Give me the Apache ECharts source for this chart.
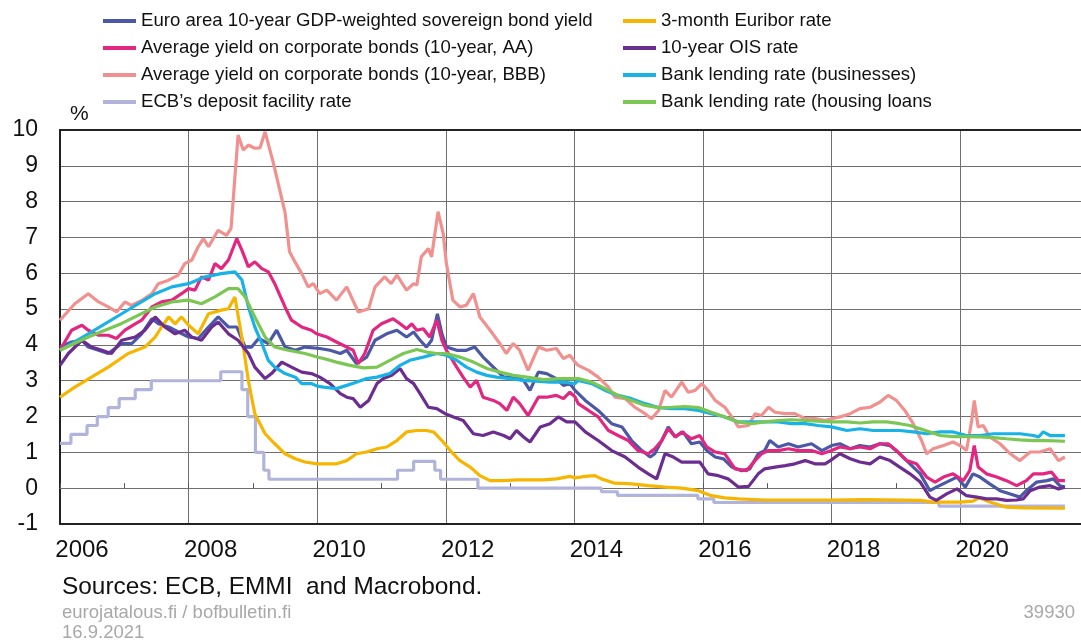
<!DOCTYPE html>
<html>
<head>
<meta charset="utf-8">
<script src="https://cdn.jsdelivr.net/npm/echarts@6/dist/echarts.min.js"></script>
<style>
html,body{margin:0;padding:0;background:#fff;}
#chart{width:1081px;height:643px;}
</style>
</head>
<body>
<div id="chart"></div>
<script>
// ---- data: [decimal year, percent] ----
const seriesNames = [
  'Euro area 10-year GDP-weighted sovereign bond yield',
  'Average yield on corporate bonds (10-year, AA)',
  'Average yield on corporate bonds (10-year, BBB)',
  'ECB\u2019s deposit facility rate',
  '3-month Euribor rate',
  '10-year OIS rate',
  'Bank lending rate (businesses)',
  'Bank lending rate (housing loans'
];
const yearTicks = [2006, 2008, 2010, 2012, 2014, 2016, 2018, 2020];

const sovereign = [[2006.00,3.94],[2006.18,4.08],[2006.34,4.13],[2006.44,3.94],[2006.60,3.85],[2006.75,3.76],[2006.96,4.04],[2007.12,4.04],[2007.27,4.31],[2007.43,4.73],[2007.53,4.59],[2007.69,4.50],[2007.84,4.36],[2008.00,4.22],[2008.15,4.18],[2008.31,4.50],[2008.46,4.78],[2008.62,4.50],[2008.75,4.50],[2008.88,3.94],[2008.98,3.94],[2009.09,4.18],[2009.24,4.04],[2009.37,4.41],[2009.50,3.94],[2009.66,3.85],[2009.81,3.94],[2010.04,3.90],[2010.20,3.85],[2010.36,3.76],[2010.46,3.85],[2010.61,3.48],[2010.77,3.66],[2010.90,4.13],[2011.08,4.31],[2011.24,4.41],[2011.39,4.22],[2011.50,4.36],[2011.60,4.13],[2011.70,3.94],[2011.78,4.13],[2011.87,4.87],[2011.94,4.31],[2012.01,3.94],[2012.17,3.85],[2012.32,3.85],[2012.45,3.94],[2012.58,3.66],[2012.74,3.38],[2012.90,3.10],[2013.05,3.10],[2013.21,3.01],[2013.31,2.73],[2013.44,3.24],[2013.57,3.20],[2013.72,3.06],[2013.83,2.87],[2013.93,2.92],[2014.01,2.73],[2014.17,2.45],[2014.37,2.17],[2014.58,1.80],[2014.74,1.71],[2014.89,1.33],[2015.05,1.05],[2015.18,0.87],[2015.25,0.96],[2015.36,1.33],[2015.46,1.71],[2015.57,1.43],[2015.69,1.57],[2015.82,1.24],[2015.95,1.29],[2016.06,1.05],[2016.19,0.87],[2016.32,0.82],[2016.45,0.59],[2016.60,0.49],[2016.73,0.54],[2016.86,0.96],[2016.96,1.05],[2017.04,1.33],[2017.17,1.15],[2017.33,1.24],[2017.48,1.15],[2017.69,1.24],[2017.85,1.05],[2018.00,1.19],[2018.13,1.24],[2018.29,1.10],[2018.44,1.19],[2018.60,1.15],[2018.75,1.24],[2018.91,1.19],[2019.06,0.96],[2019.22,0.68],[2019.38,0.40],[2019.53,-0.07],[2019.63,0.03],[2019.79,0.17],[2019.95,0.31],[2020.08,0.03],[2020.20,0.40],[2020.31,0.31],[2020.46,0.12],[2020.62,-0.07],[2020.78,-0.16],[2020.93,-0.25],[2021.03,-0.07],[2021.19,0.17],[2021.35,0.21],[2021.45,0.26],[2021.55,0.07],[2021.63,0.03]];

const corpAA = [[2006.00,3.85],[2006.18,4.41],[2006.34,4.55],[2006.44,4.41],[2006.60,4.27],[2006.75,4.27],[2006.88,4.18],[2007.01,4.41],[2007.17,4.59],[2007.27,4.69],[2007.43,5.06],[2007.58,5.20],[2007.74,5.25],[2007.89,5.43],[2008.00,5.57],[2008.10,5.53],[2008.20,5.90],[2008.31,5.81],[2008.41,6.27],[2008.51,6.13],[2008.62,6.37],[2008.75,6.97],[2008.83,6.64],[2008.93,6.18],[2009.03,6.32],[2009.14,6.13],[2009.24,6.04],[2009.34,5.71],[2009.50,5.06],[2009.60,4.69],[2009.76,4.50],[2009.91,4.41],[2009.99,4.31],[2010.15,4.22],[2010.30,4.08],[2010.46,3.94],[2010.56,3.85],[2010.64,3.48],[2010.74,3.76],[2010.87,4.41],[2011.00,4.59],[2011.18,4.73],[2011.29,4.59],[2011.39,4.45],[2011.47,4.59],[2011.55,4.41],[2011.65,4.45],[2011.75,4.22],[2011.86,4.69],[2011.94,4.13],[2012.01,3.85],[2012.17,3.38],[2012.27,3.10],[2012.38,2.82],[2012.48,3.01],[2012.58,2.54],[2012.74,2.45],[2012.84,2.36],[2012.95,2.17],[2013.05,2.54],[2013.15,2.36],[2013.28,2.03],[2013.44,2.54],[2013.57,2.54],[2013.72,2.59],[2013.83,2.50],[2013.93,2.68],[2014.01,2.55],[2014.06,2.36],[2014.22,2.17],[2014.37,1.99],[2014.53,1.61],[2014.68,1.47],[2014.84,1.33],[2014.99,1.05],[2015.15,0.96],[2015.25,1.10],[2015.36,1.33],[2015.46,1.66],[2015.57,1.43],[2015.67,1.57],[2015.82,1.38],[2015.95,1.47],[2016.06,1.15],[2016.19,1.01],[2016.34,0.96],[2016.50,0.54],[2016.68,0.49],[2016.81,0.77],[2016.91,0.96],[2017.02,1.05],[2017.17,1.05],[2017.33,1.10],[2017.48,1.05],[2017.69,1.05],[2017.85,0.96],[2018.00,1.05],[2018.13,1.15],[2018.29,1.10],[2018.44,1.15],[2018.60,1.10],[2018.75,1.24],[2018.88,1.24],[2019.01,1.05],[2019.17,0.77],[2019.32,0.68],[2019.48,0.31],[2019.61,0.17],[2019.74,0.31],[2019.89,0.40],[2020.05,0.21],[2020.15,0.49],[2020.22,1.19],[2020.28,0.59],[2020.41,0.40],[2020.57,0.31],[2020.72,0.21],[2020.88,0.07],[2021.03,0.21],[2021.14,0.40],[2021.29,0.40],[2021.42,0.45],[2021.53,0.21],[2021.63,0.21]];

const corpBBB = [[2006.00,4.69],[2006.23,5.15],[2006.44,5.43],[2006.60,5.20],[2006.75,5.06],[2006.88,4.92],[2007.01,5.20],[2007.11,5.10],[2007.27,5.24],[2007.43,5.43],[2007.53,5.71],[2007.68,5.80],[2007.84,5.95],[2007.94,6.27],[2008.05,6.37],[2008.15,6.74],[2008.23,6.97],[2008.31,6.74],[2008.46,7.20],[2008.59,7.06],[2008.66,7.25],[2008.77,9.86],[2008.85,9.44],[2008.93,9.58],[2009.03,9.49],[2009.11,9.50],[2009.19,9.95],[2009.32,9.07],[2009.50,7.70],[2009.57,6.60],[2009.66,6.30],[2009.76,5.99],[2009.86,5.62],[2009.94,5.71],[2010.04,5.43],[2010.15,5.53],[2010.30,5.25],[2010.46,5.62],[2010.64,4.92],[2010.80,5.01],[2010.90,5.62],[2011.05,5.90],[2011.15,5.71],[2011.24,5.95],[2011.39,5.53],[2011.50,5.71],[2011.55,5.67],[2011.62,6.46],[2011.73,6.69],[2011.78,6.46],[2011.88,7.72],[2011.96,7.11],[2012.01,6.27],[2012.11,5.25],[2012.22,5.06],[2012.32,5.11],[2012.43,5.43],[2012.53,4.78],[2012.69,4.41],[2012.84,4.04],[2012.94,3.76],[2013.05,4.04],[2013.15,3.85],[2013.28,3.29],[2013.44,3.94],[2013.57,3.85],[2013.72,3.90],[2013.83,3.62],[2013.93,3.71],[2014.01,3.52],[2014.06,3.43],[2014.22,3.29],[2014.37,3.10],[2014.53,2.82],[2014.63,2.54],[2014.79,2.50],[2014.94,2.26],[2015.10,2.08],[2015.20,1.94],[2015.31,2.17],[2015.41,2.73],[2015.51,2.54],[2015.67,2.96],[2015.77,2.68],[2015.88,2.73],[2015.98,2.92],[2016.08,2.73],[2016.19,2.45],[2016.34,2.26],[2016.45,1.99],[2016.55,1.71],[2016.71,1.75],[2016.81,2.08],[2016.91,2.03],[2017.02,2.26],[2017.12,2.12],[2017.28,2.08],[2017.43,2.08],[2017.59,1.94],[2017.74,1.94],[2017.90,1.89],[2018.00,1.94],[2018.13,1.99],[2018.29,2.08],[2018.44,2.22],[2018.60,2.26],[2018.75,2.40],[2018.88,2.59],[2019.01,2.45],[2019.14,2.17],[2019.27,1.80],[2019.40,1.33],[2019.48,0.96],[2019.58,1.10],[2019.74,1.19],[2019.89,1.29],[2020.00,1.19],[2020.10,1.05],[2020.18,1.89],[2020.22,2.45],[2020.28,1.71],[2020.36,1.75],[2020.46,1.43],[2020.62,1.24],[2020.78,0.96],[2020.93,0.77],[2021.09,1.01],[2021.24,1.01],[2021.40,1.10],[2021.53,0.77],[2021.63,0.87]];

const depositRate = [[2006.00,1.25],[2006.17,1.50],[2006.42,1.75],[2006.58,2.00],[2006.75,2.25],[2006.92,2.50],[2007.17,2.75],[2007.42,3.00],[2008.50,3.25],[2008.83,2.75],[2008.92,2.00],[2009.04,1.00],[2009.17,0.50],[2009.25,0.25],[2011.25,0.50],[2011.50,0.75],[2011.83,0.50],[2011.92,0.25],[2012.50,0.00],[2014.42,-0.10],[2014.67,-0.20],[2015.92,-0.30],[2016.17,-0.40],[2019.67,-0.50],[2021.63,-0.50]];

const euribor3m = [[2006.00,2.54],[2006.23,2.82],[2006.75,3.38],[2007.06,3.76],[2007.32,3.94],[2007.48,4.22],[2007.58,4.50],[2007.69,4.78],[2007.79,4.59],[2007.89,4.78],[2008.00,4.55],[2008.15,4.31],[2008.31,4.87],[2008.51,4.97],[2008.62,5.01],[2008.72,5.34],[2008.83,4.20],[2008.93,3.00],[2009.03,2.08],[2009.19,1.52],[2009.34,1.24],[2009.50,0.96],[2009.66,0.82],[2009.81,0.73],[2010.00,0.68],[2010.30,0.68],[2010.46,0.77],[2010.61,0.96],[2010.77,1.01],[2010.93,1.10],[2011.08,1.15],[2011.24,1.33],[2011.39,1.57],[2011.55,1.61],[2011.70,1.61],[2011.81,1.57],[2011.94,1.33],[2012.07,1.05],[2012.22,0.77],[2012.38,0.59],[2012.53,0.35],[2012.69,0.21],[2012.90,0.21],[2013.10,0.23],[2013.31,0.23],[2013.52,0.23],[2013.72,0.26],[2013.93,0.33],[2014.01,0.29],[2014.17,0.33],[2014.32,0.35],[2014.42,0.26],[2014.63,0.14],[2014.89,0.12],[2015.15,0.07],[2015.41,0.03],[2015.67,0.00],[2015.93,-0.07],[2016.13,-0.21],[2016.34,-0.27],[2016.55,-0.30],[2016.96,-0.33],[2018.00,-0.33],[2018.50,-0.32],[2019.38,-0.34],[2019.58,-0.39],[2020.00,-0.39],[2020.20,-0.36],[2020.30,-0.27],[2020.45,-0.38],[2020.72,-0.53],[2021.00,-0.55],[2021.63,-0.56]];

const ois10y = [[2006.00,3.43],[2006.13,3.76],[2006.34,4.13],[2006.49,3.94],[2006.65,3.85],[2006.80,3.76],[2006.96,4.13],[2007.17,4.22],[2007.32,4.41],[2007.48,4.78],[2007.63,4.50],[2007.79,4.31],[2007.94,4.41],[2008.05,4.22],[2008.20,4.13],[2008.36,4.50],[2008.46,4.64],[2008.62,4.31],[2008.77,4.13],[2008.93,3.76],[2009.03,3.38],[2009.19,3.06],[2009.29,3.20],[2009.45,3.52],[2009.60,3.38],[2009.76,3.24],[2009.91,3.20],[2010.04,3.10],[2010.20,2.92],[2010.36,2.64],[2010.46,2.54],[2010.56,2.50],[2010.67,2.26],[2010.80,2.45],[2010.93,2.92],[2011.03,3.06],[2011.16,3.15],[2011.29,3.34],[2011.39,3.06],[2011.50,2.92],[2011.60,2.64],[2011.73,2.26],[2011.86,2.22],[2011.99,2.08],[2012.12,1.99],[2012.27,1.89],[2012.43,1.52],[2012.58,1.47],[2012.74,1.57],[2012.90,1.47],[2013.00,1.38],[2013.10,1.61],[2013.21,1.43],[2013.31,1.29],[2013.47,1.71],[2013.62,1.80],[2013.75,1.99],[2013.88,1.85],[2014.01,1.85],[2014.17,1.57],[2014.37,1.33],[2014.58,1.05],[2014.79,0.87],[2014.99,0.59],[2015.15,0.40],[2015.28,0.26],[2015.41,0.96],[2015.54,0.87],[2015.67,0.73],[2015.82,0.73],[2015.95,0.73],[2016.08,0.40],[2016.24,0.35],[2016.39,0.26],[2016.55,0.03],[2016.71,0.05],[2016.86,0.40],[2016.96,0.54],[2017.12,0.59],[2017.28,0.63],[2017.43,0.68],[2017.59,0.77],[2017.74,0.68],[2017.90,0.68],[2017.98,0.77],[2018.13,0.96],[2018.29,0.82],[2018.44,0.73],[2018.60,0.68],[2018.75,0.87],[2018.91,0.77],[2019.06,0.59],[2019.22,0.40],[2019.38,0.17],[2019.53,-0.25],[2019.63,-0.34],[2019.79,-0.16],[2019.95,-0.02],[2020.10,-0.21],[2020.26,-0.25],[2020.41,-0.30],[2020.57,-0.30],[2020.72,-0.34],[2020.88,-0.33],[2020.98,-0.30],[2021.09,-0.07],[2021.24,0.03],[2021.40,0.07],[2021.53,-0.02],[2021.63,0.03]];

const lendingBusiness = [[2006.00,3.85],[2006.44,4.31],[2006.96,4.87],[2007.48,5.43],[2007.74,5.62],[2008.00,5.71],[2008.26,5.90],[2008.51,5.99],[2008.72,6.04],[2008.83,5.81],[2008.93,5.06],[2009.03,4.50],[2009.14,4.04],[2009.24,3.57],[2009.34,3.38],[2009.50,3.20],[2009.66,3.10],[2009.76,2.92],[2009.91,2.92],[2010.00,2.85],[2010.10,2.82],[2010.30,2.78],[2010.46,2.87],[2010.61,2.96],[2010.77,3.06],[2010.93,3.10],[2011.13,3.20],[2011.29,3.43],[2011.44,3.57],[2011.65,3.66],[2011.86,3.76],[2012.01,3.71],[2012.17,3.57],[2012.32,3.38],[2012.48,3.24],[2012.64,3.15],[2012.79,3.10],[2013.00,3.06],[2013.21,3.01],[2013.41,2.99],[2013.62,2.96],[2013.83,2.96],[2014.01,2.92],[2014.06,3.01],[2014.27,2.92],[2014.48,2.73],[2014.68,2.59],[2014.89,2.50],[2015.10,2.36],[2015.31,2.25],[2015.51,2.22],[2015.72,2.22],[2015.93,2.17],[2016.13,2.08],[2016.34,1.99],[2016.55,1.85],[2016.76,1.85],[2016.96,1.85],[2017.17,1.85],[2017.38,1.80],[2017.59,1.80],[2017.79,1.75],[2018.00,1.71],[2018.03,1.66],[2018.24,1.61],[2018.44,1.66],[2018.65,1.61],[2018.86,1.61],[2019.06,1.61],[2019.27,1.57],[2019.48,1.52],[2019.69,1.57],[2019.89,1.57],[2020.10,1.47],[2020.31,1.47],[2020.52,1.52],[2020.72,1.52],[2020.93,1.52],[2021.14,1.47],[2021.22,1.43],[2021.29,1.57],[2021.40,1.47],[2021.63,1.47]];

const lendingHousing = [[2006.00,3.85],[2006.44,4.22],[2006.96,4.60],[2007.48,5.06],[2007.74,5.20],[2008.00,5.25],[2008.20,5.15],[2008.41,5.34],[2008.62,5.57],[2008.77,5.57],[2008.88,5.34],[2009.03,4.78],[2009.19,4.22],[2009.34,3.94],[2009.55,3.85],[2009.81,3.76],[2010.00,3.66],[2010.10,3.62],[2010.30,3.52],[2010.51,3.43],[2010.72,3.36],[2010.93,3.38],[2011.13,3.57],[2011.34,3.76],[2011.55,3.87],[2011.70,3.80],[2011.86,3.76],[2012.01,3.76],[2012.22,3.66],[2012.43,3.52],[2012.64,3.34],[2012.84,3.24],[2013.05,3.15],[2013.26,3.10],[2013.52,3.03],[2013.78,3.06],[2014.01,3.06],[2014.06,3.06],[2014.27,2.96],[2014.48,2.78],[2014.68,2.59],[2014.89,2.45],[2015.10,2.31],[2015.31,2.25],[2015.51,2.26],[2015.72,2.28],[2015.93,2.25],[2016.13,2.12],[2016.34,1.99],[2016.55,1.85],[2016.76,1.80],[2016.96,1.85],[2017.17,1.89],[2017.38,1.91],[2017.59,1.89],[2017.79,1.87],[2018.00,1.85],[2018.24,1.85],[2018.44,1.82],[2018.65,1.85],[2018.86,1.85],[2019.06,1.80],[2019.22,1.75],[2019.38,1.66],[2019.53,1.57],[2019.69,1.47],[2019.89,1.44],[2020.10,1.44],[2020.31,1.43],[2020.52,1.41],[2020.72,1.38],[2020.93,1.35],[2021.14,1.33],[2021.35,1.33],[2021.63,1.31]];

const colors = ['#4a58a6','#e3267f','#f0918f','#b1b4da','#f6b500','#6b2d90','#19b2e6','#7cc754'];
const seriesData = [sovereign, corpAA, corpBBB, depositRate, euribor3m, ois10y, lendingBusiness, lendingHousing];

const FONT = '"Liberation Sans", Arial, sans-serif';
const chart = echarts.init(document.getElementById('chart'), null, {renderer: 'canvas'});

const xMin = 2006, xMax = 2021.88;

const legendBase = {
  orient: 'vertical', top: 6,
  icon: 'rect', itemWidth: 33, itemHeight: 4, itemGap: 7,
  textStyle: {fontFamily: FONT, fontSize: 18.6, color: '#111', lineHeight: 20},
  selectedMode: false
};

chart.setOption({
  animation: false,
  backgroundColor: '#ffffff',
  color: colors,
  textStyle: {fontFamily: FONT},
  grid: {left: 60, top: 130, right: 0, bottom: 119, containLabel: false, outerBoundsMode: 'none'},
  legend: [
    Object.assign({}, legendBase, {data: seriesNames.slice(0, 4), left: 98}),
    Object.assign({}, legendBase, {data: seriesNames.slice(4), left: 618})
  ],
  xAxis: [
    {
      type: 'value', min: xMin, max: xMax, interval: 2, position: 'bottom',
      axisLine: {show: true, onZero: false, lineStyle: {color: '#222', width: 2}},
      axisTick: {show: false},
      splitLine: {show: true, lineStyle: {color: '#6f6f6f', width: 1}},
      axisLabel: {
        show: true, margin: 14, fontSize: 24, color: '#111', fontFamily: FONT,
        padding: [0, 0, 0, 44], showMaxLabel: false,
        formatter: v => (yearTicks.indexOf(Math.round(v)) >= 0 && Math.abs(v - Math.round(v)) < 1e-6) ? String(Math.round(v)) : ''
      }
    },
    {
      type: 'value', min: xMin, max: xMax, interval: 1, position: 'bottom',
      axisLine: {show: true, onZero: true, lineStyle: {color: '#6f6f6f', width: 1}},
      axisTick: {show: true, inside: true, length: 5, lineStyle: {color: '#555', width: 1}},
      splitLine: {show: false},
      axisLabel: {show: false}
    },
    {
      type: 'value', min: xMin, max: xMax, position: 'top',
      axisLine: {show: true, onZero: false, lineStyle: {color: '#222', width: 2}},
      axisTick: {show: false}, splitLine: {show: false}, axisLabel: {show: false}
    }
  ],
  yAxis: {
    type: 'value', min: -1, max: 10, interval: 1,
    axisLine: {show: true, lineStyle: {color: '#222', width: 2}},
    axisTick: {show: false},
    splitLine: {show: true, lineStyle: {color: '#6f6f6f', width: 1}},
    axisLabel: {margin: 22, fontSize: 23, color: '#111', fontFamily: FONT}
  },
  graphic: [
    {type: 'text', left: 70, top: 104, style: {text: '%', fontSize: 21, fill: '#111', fontFamily: FONT}},
    {type: 'text', left: 62, top: 575, style: {text: 'Sources: ECB, EMMI  and Macrobond.', fontSize: 24.4, fill: '#111', fontFamily: FONT}},
    {type: 'text', left: 62, top: 603, style: {text: 'eurojatalous.fi / bofbulletin.fi', fontSize: 18.5, fill: '#a8a8a8', fontFamily: FONT}},
    {type: 'text', left: 62, top: 623, style: {text: '16.9.2021', fontSize: 18.5, fill: '#a8a8a8', fontFamily: FONT}},
    {type: 'text', right: 6, top: 603, style: {text: '39930', fontSize: 18.5, fill: '#a8a8a8', fontFamily: FONT}}
  ],
  series: seriesNames.map((name, i) => ({
    name: name,
    type: 'line',
    data: seriesData[i],
    xAxisIndex: 0,
    yAxisIndex: 0,
    showSymbol: false,
    symbol: 'none',
    step: i === 3 ? 'end' : false,
    lineStyle: {width: 3.2, color: colors[i]},
    itemStyle: {color: colors[i]},
    emphasis: {disabled: true},
    z: 2 + i
  }))
});
</script>
</body>
</html>
